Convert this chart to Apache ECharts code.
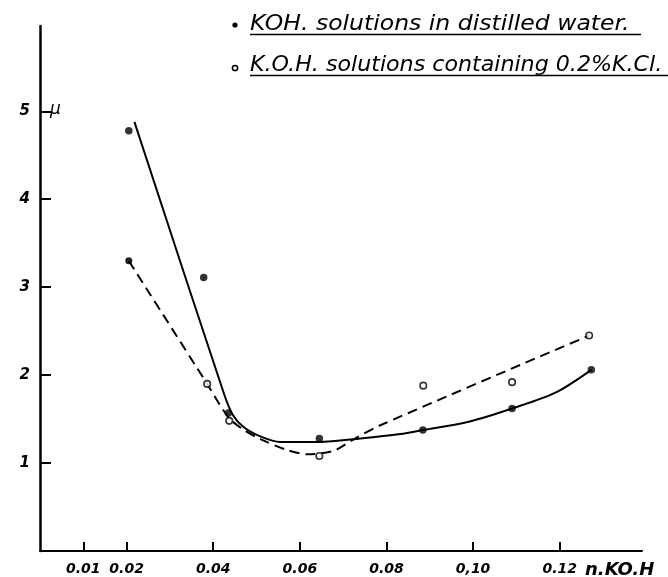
<!DOCTYPE html>
<html>
<head>
<meta charset="utf-8">
<script src="https://cdn.jsdelivr.net/npm/echarts@6.0.0/dist/echarts.min.js"></script>
<style>
  html, body { margin: 0; background: #fff; }
  #chart { width: 668px; height: 577px; }
</style>
</head>
<body>
<div id="chart"></div>
<script>
// axis ticks
const xTicks = [0.01, 0.02, 0.04, 0.06, 0.08, 0.10, 0.12]
const xTickLabels = ['0.01', '0.02', '0.04', '0.06', '0.08', '0,10', '0.12']
const yTicks = [1, 2, 3, 4, 5]

const seriesNames = ['KOH. solutions in distilled water.', 'K.O.H. solutions containing 0.2%K.Cl.']

// measured points, KOH in distilled water (filled dots)
const waterX = [0.0205, 0.0378, 0.0435, 0.0645, 0.0884, 0.109, 0.1273]
const waterY = [4.78, 3.11, 1.57, 1.28, 1.375, 1.62, 2.06]

// measured points, KOH with 0.2% KCl (open circles)
const kclX = [0.0205, 0.0386, 0.0437, 0.0645, 0.0885, 0.109, 0.1268]
const kclY = [3.30, 1.90, 1.48, 1.08, 1.88, 1.92, 2.45]

// hand drawn curves
const waterCurveX = [0.0218, 0.0424, 0.0445, 0.047, 0.051, 0.0555, 0.0645, 0.074, 0.0832, 0.0884, 0.099, 0.109, 0.119, 0.1273]
const waterCurveY = [4.88, 1.80, 1.55, 1.41, 1.30, 1.24, 1.24, 1.28, 1.33, 1.375, 1.47, 1.62, 1.80, 2.06]
const kclCurveX = [0.0205, 0.0386, 0.0435, 0.047, 0.051, 0.057, 0.0617, 0.0678, 0.0724, 0.0786, 0.1268]
const kclCurveY = [3.30, 1.90, 1.52, 1.38, 1.27, 1.15, 1.10, 1.14, 1.27, 1.43, 2.45]

const zip = (xs, ys) => xs.map((x, i) => [x, ys[i]])
const ink = '#000'
const font = 'DejaVu Sans'

const myChart = echarts.init(document.getElementById('chart'))

myChart.setOption({
  animation: false,
  backgroundColor: '#fff',
  grid: { left: 40, top: 26, width: 602, height: 525 },
  xAxis: {
    type: 'value',
    min: 0,
    max: 0.139,
    axisLine: { show: true, lineStyle: { color: ink, width: 2 } },
    axisTick: { show: true, inside: true, length: 9, customValues: xTicks, lineStyle: { color: ink, width: 2 } },
    axisLabel: {
      customValues: xTicks,
      formatter: (v) => {
        const i = xTicks.findIndex(t => Math.abs(t - v) < 1e-9)
        return i < 0 ? '' : xTickLabels[i]
      },
      color: ink,
      fontFamily: font,
      fontStyle: 'italic',
      fontWeight: 'bold',
      fontSize: 14,
      margin: 11
    },
    splitLine: { show: false }
  },
  yAxis: {
    type: 'value',
    min: 0,
    max: 5.97,
    axisLine: { show: true, lineStyle: { color: ink, width: 2.5 } },
    axisTick: { show: true, inside: true, length: 11, customValues: yTicks, lineStyle: { color: ink, width: 2 } },
    axisLabel: {
      customValues: yTicks,
      color: ink,
      fontFamily: font,
      fontStyle: 'italic',
      fontWeight: 'bold',
      fontSize: 15,
      margin: 10
    },
    splitLine: { show: false }
  },
  series: [
    {
      name: seriesNames[0] + ' curve',
      type: 'line',
      data: zip(waterCurveX, waterCurveY),
      smooth: 0.3,
      showSymbol: false,
      lineStyle: { color: ink, width: 2 },
      z: 2
    },
    {
      name: seriesNames[1] + ' curve',
      type: 'line',
      data: zip(kclCurveX, kclCurveY),
      smooth: 0.3,
      showSymbol: false,
      lineStyle: { color: ink, width: 2, type: [10, 6] },
      z: 2
    },
    {
      name: seriesNames[0],
      type: 'scatter',
      data: zip(waterX, waterY),
      symbol: 'circle',
      symbolSize: 7.5,
      itemStyle: { color: ink },
      z: 3
    },
    {
      name: seriesNames[1],
      type: 'scatter',
      // the first one is drawn as a small solid dot where the dashed line starts
      data: zip(kclX, kclY).map((p, i) => i === 0
        ? { value: p, symbol: 'circle', symbolSize: 5.5, itemStyle: { color: ink } }
        : p),
      symbol: 'circle',
      symbolSize: 6.5,
      itemStyle: { color: '#fff', borderColor: ink, borderWidth: 1.6 },
      z: 3
    }
  ]
})

// unit label next to the 5 tick and the axis name under the end of x axis
const p5 = myChart.convertToPixel({ gridIndex: 0 }, [0, 5])
const pEnd = myChart.convertToPixel({ gridIndex: 0 }, [0.139, 0])

myChart.setOption({
  graphic: [
    { type: 'text', x: p5[0] + 10, y: p5[1] - 2, style: { text: 'μ', font: 'italic 17px ' + font, fill: ink, verticalAlign: 'middle' } },
    { type: 'text', x: pEnd[0] - 57, y: pEnd[1] + 19, style: { text: 'n.KO.H', font: 'italic bold 18px ' + font, fill: ink, verticalAlign: 'middle' } },
    // legend
    { type: 'circle', shape: { cx: 235, cy: 25, r: 2.6 }, style: { fill: ink } },
    { type: 'text', x: 250, y: 25, scaleX: 1.12, style: { text: seriesNames[0], font: 'italic 21px ' + font, fill: ink, verticalAlign: 'middle' } },
    { type: 'line', shape: { x1: 250, y1: 34.5, x2: 641, y2: 34.5 }, style: { stroke: ink, lineWidth: 1.5 } },
    { type: 'circle', shape: { cx: 235, cy: 68, r: 2.6 }, style: { fill: '#fff', stroke: ink, lineWidth: 1.5 } },
    { type: 'text', x: 250, y: 65.5, scaleX: 1.055, style: { text: seriesNames[1], font: 'italic 21px ' + font, fill: ink, verticalAlign: 'middle' } },
    { type: 'line', shape: { x1: 250, y1: 75.5, x2: 668, y2: 75.5 }, style: { stroke: ink, lineWidth: 1.5 } }
  ]
})
</script>
</body>
</html>
